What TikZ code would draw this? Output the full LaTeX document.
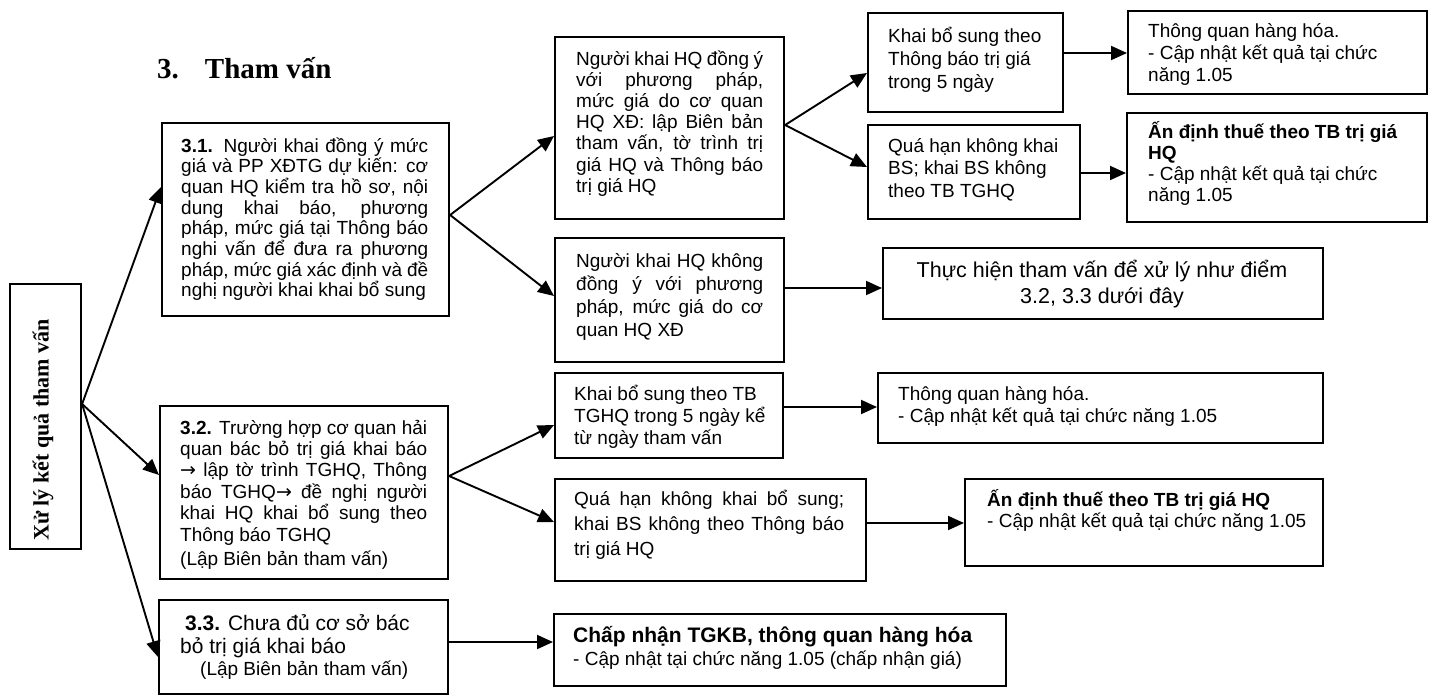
\documentclass[tikz,border=0pt]{standalone}
\usepackage{fontspec}
\setmainfont{Liberation Sans}
\newfontfamily\serifb{Liberation Serif}
\newfontfamily\djv{DejaVu Sans}
\usetikzlibrary{arrows.meta}
\newcommand\jl[1]{\makebox[\linewidth][s]{#1}}
\newcommand\ptext[4]{\parbox[t]{#1}{\fontsize{#2}{#3}\selectfont #4}}
\newcommand\rarr{{\djv →}}
\tikzset{
  box/.style={draw, line width=2.1pt, inner sep=0, anchor=north west},
  txt/.style={anchor=base west, inner sep=0},
  arr/.style={-{Triangle[length=16pt,width=14pt]}, line width=1.9pt},
}
\begin{document}
\begin{tikzpicture}[x=1pt,y=-1pt]
\useasboundingbox (0,0) rectangle (1435,697);
% boxes
\node[box, minimum width=71pt, minimum height=265pt] (L) at (9,283) {};
\node[box, minimum width=287pt, minimum height=193pt] (b31) at (161,122) {};
\node[box, minimum width=288pt, minimum height=173pt] (b32) at (159,405) {};
\node[box, minimum width=289pt, minimum height=94pt] (b33) at (158,599) {};
\node[box, minimum width=229pt, minimum height=182pt] (bdy) at (554,36) {};
\node[box, minimum width=229pt, minimum height=124pt] (bkd) at (554,237) {};
\node[box, minimum width=195pt, minimum height=99pt] (bks1) at (867,12) {};
\node[box, minimum width=212pt, minimum height=94pt] (bqh1) at (867,124) {};
\node[box, minimum width=299pt, minimum height=83pt] (btq1) at (1127,10) {};
\node[box, minimum width=300pt, minimum height=109pt] (bad1) at (1126,112) {};
\node[box, minimum width=440pt, minimum height=71pt] (bth) at (882,247) {};
\node[box, minimum width=228pt, minimum height=85pt] (bks2) at (554,372) {};
\node[box, minimum width=311pt, minimum height=102pt] (bqh2) at (554,478) {};
\node[box, minimum width=445pt, minimum height=70pt] (btq2) at (877,372) {};
\node[box, minimum width=358pt, minimum height=87pt] (bad2) at (964,478) {};
\node[box, minimum width=452pt, minimum height=72pt] (bcn) at (553,613) {};
% title
\node[txt] (title) at (157,78) {\serifb\bfseries\fontsize{29}{31}\selectfont 3.\hspace{26pt}Tham vấn};
\node[rotate=90, inner sep=0] (ltxt) at (43,430) {\serifb\bfseries\fontsize{22}{24}\selectfont Xử lý kết quả tham vấn};
% texts
\node[txt] (t31) at (181,152) {\ptext{247pt}{19}{20.7}{%
\jl{\textbf{3.1.} Người khai đồng ý mức}\\
\jl{giá và PP XĐTG dự kiến: cơ}\\
\jl{quan HQ kiểm tra hồ sơ, nội}\\
\jl{dung khai báo, phương}\\
\jl{pháp, mức giá tại Thông báo}\\
\jl{nghi vấn để đưa ra phương}\\
\jl{pháp, mức giá xác định và đề}\\
nghị người khai khai bổ sung}};
\node[txt] (t32) at (180,434) {\ptext{247pt}{19}{21.4}{%
\jl{\textbf{3.2.} Trường hợp cơ quan hải}\\
\jl{quan bác bỏ trị giá khai báo}\\
\jl{\rarr{} lập tờ trình TGHQ, Thông}\\
\jl{báo TGHQ\rarr{} đề nghị người}\\
\jl{khai HQ khai bổ sung theo}\\
Thông báo TGHQ\\[2.6pt]
(Lập Biên bản tham vấn)}};
\node[txt] (t33a) at (185,630) {\fontsize{21}{23}\selectfont\textbf{3.3.} Chưa đủ cơ sở bác};
\node[txt] (t33b) at (180,653) {\fontsize{21}{23}\selectfont bỏ trị giá khai báo};
\node[txt] (t33c) at (200,675) {\fontsize{19}{21}\selectfont (Lập Biên bản tham vấn)};
\node[txt] (tdy) at (576,65) {\ptext{187pt}{19}{21.2}{%
\jl{Người khai HQ đồng ý}\\
\jl{với phương pháp,}\\
\jl{mức giá do cơ quan}\\
\jl{HQ XĐ: lập Biên bản}\\
\jl{tham vấn, tờ trình trị}\\
\jl{giá HQ và Thông báo}\\
trị giá HQ}};
\node[txt] (tkd) at (576,267) {\ptext{187pt}{19}{23.3}{%
\jl{Người khai HQ không}\\
\jl{đồng ý với phương}\\
\jl{pháp, mức giá do cơ}\\
quan HQ XĐ}};
\node[txt] (tks1) at (888,42) {\ptext{170pt}{19}{23}{Khai bổ sung theo\\Thông báo trị giá\\trong 5 ngày}};
\node[txt] (tqh1) at (888,152) {\ptext{185pt}{19}{22.5}{Quá hạn không khai\\BS; khai BS không\\theo TB TGHQ}};
\node[txt] (ttq1) at (1148,37) {\ptext{270pt}{19}{22}{Thông quan hàng hóa.\\- Cập nhật kết quả tại chức\\năng 1.05}};
\node[txt] (tad1) at (1148,138) {\ptext{275pt}{19}{21.3}{\textbf{Ấn định thuế theo TB trị giá}\\\textbf{HQ}\\- Cập nhật kết quả tại chức\\năng 1.05}};
\node[anchor=base, inner sep=0] (tth) at (1102,277) {\ptext{430pt}{21.5}{26}{\centering Thực hiện tham vấn để xử lý như điểm\\3.2, 3.3 dưới đây}};
\node[txt] (tks2) at (574,400) {\ptext{200pt}{19}{22}{Khai bổ sung theo TB\\TGHQ trong 5 ngày kể\\từ ngày tham vấn}};
\node[txt] (tqh2) at (574,505) {\ptext{270pt}{19}{25}{%
\jl{Quá hạn không khai bổ sung;}\\
\jl{khai BS không theo Thông báo}\\
trị giá HQ}};
\node[txt] (ttq2) at (898,400) {\ptext{410pt}{19}{22}{Thông quan hàng hóa.\\- Cập nhật kết quả tại chức năng 1.05}};
\node[txt] (tad2) at (987,506) {\ptext{330pt}{19}{21}{\textbf{Ấn định thuế theo TB trị giá HQ}\\- Cập nhật kết quả tại chức năng 1.05}};
\node[txt] (tcn) at (573,642) {\ptext{425pt}{19}{23}{{\fontsize{21}{23}\selectfont\textbf{Chấp nhận TGKB, thông quan hàng hóa}}\\- Cập nhật tại chức năng 1.05 (chấp nhận giá)}};
% arrows
\draw[arr] (L.east |- 0,404) -- (b31.west |- 0,187);
\draw[arr] (L.east |- 0,404) -- (b32.west |- 0,475);
\draw[arr] (L.east |- 0,404) -- (b33.west |- 0,657);
\draw[arr] (b31.east |- 0,215) -- (bdy.west |- 0,136);
\draw[arr] (b31.east |- 0,215) -- (bkd.west |- 0,296);
\draw[arr] (bdy.east |- 0,125) -- (bks1.west |- 0,73);
\draw[arr] (bdy.east |- 0,125) -- (bqh1.west |- 0,167);
\draw[arr] (bks1.east |- 0,53) -- (btq1.west |- 0,53);
\draw[arr] (bqh1.east |- 0,173) -- (bad1.west |- 0,173);
\draw[arr] (bkd.east |- 0,288) -- (bth.west |- 0,288);
\draw[arr] (b32.east |- 0,476) -- (bks2.west |- 0,425);
\draw[arr] (b32.east |- 0,476) -- (bqh2.west |- 0,522);
\draw[arr] (bks2.east |- 0,407) -- (btq2.west |- 0,407);
\draw[arr] (bqh2.east |- 0,523) -- (bad2.west |- 0,523);
\draw[arr] (b33.east |- 0,642) -- (bcn.west |- 0,642);
\end{tikzpicture}
\end{document}
